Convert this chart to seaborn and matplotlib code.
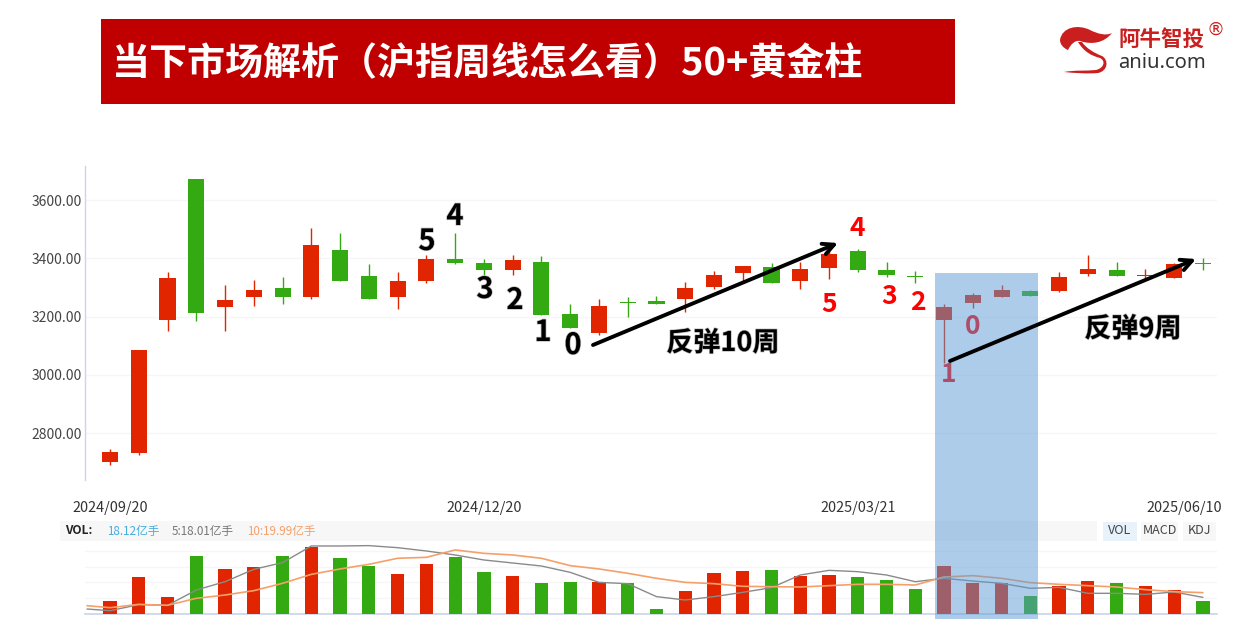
import matplotlib
matplotlib.use('Agg')
import matplotlib.pyplot as plt
import matplotlib.patheffects as pe
from matplotlib.path import Path
from matplotlib.patches import PathPatch, Rectangle
import numpy as np
import pandas as pd
import seaborn as sns

sns.set_theme(style='white')
plt.rcParams['font.family'] = ['Noto Sans CJK SC', 'DejaVu Sans']

# weekly candles, 39 weeks
opens = [2700, 2732, 3187, 3672, 3234, 3268, 3297, 3268, 3427, 3339, 3268, 3321, 3397, 3384, 3361, 3389,
         3208, 3144, 3249, 3253, 3262, 3300, 3350, 3369, 3321, 3367, 3424, 3360, 3338, 3188, 3245, 3266,
         3288, 3289, 3347, 3360, 3339, 3333, 3382]
closes = [2734, 3085, 3331, 3211, 3256, 3293, 3266, 3447, 3323, 3260, 3322, 3397, 3384, 3361, 3395, 3205,
          3162, 3238, 3245, 3244, 3299, 3342, 3374, 3315, 3365, 3415, 3359, 3344, 3336, 3233, 3273, 3291,
          3271, 3337, 3363, 3340, 3341, 3380, 3380]
highs = [2746, 3085, 3354, 3672, 3308, 3325, 3335, 3505, 3486, 3380, 3352, 3411, 3488, 3397, 3412, 3408,
         3242, 3262, 3267, 3270, 3320, 3355, 3374, 3383, 3388, 3430, 3432, 3389, 3356, 3244, 3282, 3308,
         3292, 3354, 3411, 3389, 3362, 3385, 3400]
lows = [2689, 2725, 3149, 3185, 3149, 3236, 3243, 3259, 3323, 3260, 3225, 3316, 3381, 3339, 3343, 3205,
        3162, 3138, 3199, 3244, 3216, 3295, 3320, 3315, 3295, 3330, 3353, 3335, 3314, 3039, 3230, 3266,
        3271, 3283, 3340, 3338, 3328, 3333, 3360]
# red / green as shown on the chart (not always close vs open)
up_flags = [1, 1, 1, 0, 1, 1, 0, 1, 0, 0, 1, 1, 0, 0, 1, 0, 0, 1, 0, 0, 1, 1, 1, 0, 1, 1, 0, 0, 0, 1, 1, 1,
            0, 1, 1, 0, 1, 1, 0]
volumes = [17.2, 50.3, 23.1, 78.8, 61.6, 63.9, 78.8, 91.5, 75.7, 65.2, 54.8, 67.5, 77.5, 57.1, 51.6, 42.1,
           43.5, 43.5, 42.1, 6.8, 30.8, 55.7, 58, 59.3, 51.2, 52.5, 50.3, 46.7, 34, 65.2, 42.1, 42.1, 24.9,
           38.1, 44.4, 42.1, 37.6, 32.6, 18.12]
ma5 = [6.8, 4.5, 12.7, 11.8, 32.6, 43.9, 60.7, 69.8, 92.4, 92.4, 92.9, 90.1, 85.6, 80.2, 73.4, 69.3, 65.2,
       56.6, 43, 41.2, 23.6, 19, 23.6, 29.4, 35.8, 53, 59.3, 57.5, 53, 43.9, 48.5, 44.8, 41.7, 34.9, 36.2,
       28.1, 28.1, 26.7, 29.9, 22.6]
ma10 = [11.3, 8.6, 13.1, 11.8, 21.3, 25.8, 31.7, 41.7, 53.9, 61.2, 67.5, 75.7, 77, 87, 82.4, 80.2, 75.7,
        65.7, 61.2, 55.3, 48.5, 43, 41.2, 37.6, 37.1, 36.7, 38.5, 40.3, 40.3, 39.4, 50.3, 52.1, 48.5, 42.6,
        40.3, 38.5, 36.7, 33.1, 30.4, 29]
price_ticks = [2800, 3000, 3200, 3400, 3600]
volume_grid = [21.3, 43.1, 64.3, 86]

RED = '#e02500'
GREEN = '#33aa11'
W, H = 1243, 633

weeks = np.arange(len(opens))
df = pd.DataFrame({'week': weeks, 'open': opens, 'close': closes, 'high': highs, 'low': lows,
                   'volume': volumes, 'side': ['up' if u else 'down' for u in up_flags]})
df['color'] = df['side'].map({'up': RED, 'down': GREEN})

fig = plt.figure(figsize=(W / 100, H / 100), dpi=100, facecolor='white')


def px_axes(left, top, right, bottom, **kw):
    return fig.add_axes([left / W, 1 - bottom / H, (right - left) / W, (bottom - top) / H], **kw)


xlim = (-0.87, 38.49)

# price panel
ax = px_axes(85, 166, 1217, 480)
ax.vlines(df['week'], df['low'], df['high'], colors=df['color'], lw=1, zorder=3)
body_low = df[['open', 'close']].min(axis=1)
body_h = (df['open'] - df['close']).abs().clip(lower=5)
ax.bar(df['week'], body_h, bottom=body_low, width=0.56, color=df['color'], linewidth=0, zorder=4)
ax.set_xlim(xlim)
ax.set_ylim(2639, 3717)
ax.set_yticks(price_ticks)
ax.set_yticklabels(['%.2f' % t for t in price_ticks], fontsize=10, color='#444444')
ax.set_xticks([])
ax.tick_params(axis='y', length=0, pad=2)
ax.grid(axis='y', color='#f6f6f8', lw=1)
ax.set_axisbelow(True)
sns.despine(ax=ax, top=True, right=True, bottom=True)
ax.spines['left'].set_color('#ccd6eb')
ax.spines['left'].set_linewidth(1)

# volume panel
ax_vol = px_axes(85, 544, 1217, 614)
sns.barplot(data=df, x='week', y='volume', hue='side', palette={'up': RED, 'down': GREEN},
            native_scale=True, width=0.46, dodge=False, legend=False, saturation=1, linewidth=0,
            ax=ax_vol, zorder=3)
line_x = [xlim[0] + 0.07] + list(weeks)
sns.lineplot(x=line_x, y=ma5, color='#8a8a8a', lw=1, sort=False, estimator=None, ax=ax_vol, zorder=4)
sns.lineplot(x=line_x, y=ma10, color='#f5a06a', lw=1.2, sort=False, estimator=None, ax=ax_vol, zorder=5)
ax_vol.set_xlim(xlim)
ax_vol.set_ylim(0, 95.1)
ax_vol.set_yticks(volume_grid)
ax_vol.set_yticklabels([])
ax_vol.set_xticks([])
ax_vol.set_xlabel('')
ax_vol.set_ylabel('')
ax_vol.tick_params(length=0)
ax_vol.grid(axis='y', color='#f6f6f8', lw=1)
ax_vol.set_axisbelow(True)
sns.despine(ax=ax_vol, top=True, right=True, left=True)
ax_vol.spines['bottom'].set_color('#ccd6eb')

# overlay in pixel coordinates: banner, logo, notes
ov = fig.add_axes([0, 0, 1, 1], zorder=10)
ov.set_xlim(0, W)
ov.set_ylim(H, 0)
ov.axis('off')
ov.patch.set_alpha(0)

ov.add_patch(Rectangle((101, 19), 854, 85, color='#c00000', lw=0))
ov.text(112, 64, '当下市场解析（沪指周线怎么看）50+黄金柱', color='white', fontsize=27.4, fontweight='bold',
        va='center', ha='left')

# logo
head = Path([(1060, 40), (1062, 27), (1078, 24), (1090, 30), (1098, 34), (1106, 36), (1112, 33),
             (1104, 43), (1092, 45), (1080, 41), (1075, 40), (1071, 44), (1068, 50), (1063, 48), (1060, 44), (1060, 40)],
            [Path.MOVETO, Path.CURVE4, Path.CURVE4, Path.CURVE4, Path.CURVE4, Path.CURVE4, Path.CURVE4,
             Path.CURVE4, Path.CURVE4, Path.CURVE4, Path.CURVE4, Path.CURVE4, Path.CURVE4, Path.CURVE4, Path.CURVE4, Path.CLOSEPOLY])
ov.add_patch(PathPatch(head, color='#c9201f', lw=0))
tail = Path([(1078, 42), (1084, 52), (1092, 56), (1100, 58), (1106, 61), (1104, 68), (1096, 70),
             (1086, 71), (1074, 70), (1064, 72), (1074, 73), (1088, 74), (1098, 73), (1108, 71), (1109, 60), (1102, 56),
             (1094, 53), (1086, 48), (1082, 42), (1078, 42)],
            [Path.MOVETO, Path.CURVE4, Path.CURVE4, Path.CURVE4, Path.CURVE4, Path.CURVE4, Path.CURVE4,
             Path.CURVE4, Path.CURVE4, Path.CURVE4, Path.CURVE4, Path.CURVE4, Path.CURVE4, Path.CURVE4, Path.CURVE4, Path.CURVE4,
             Path.CURVE4, Path.CURVE4, Path.CURVE4, Path.CLOSEPOLY])
ov.add_patch(PathPatch(tail, color='#c9201f', lw=0))
ov.text(1162, 39, '阿牛智投', color='#c9201f', fontsize=15.5, fontweight='bold', ha='center', va='center')
ov.text(1162, 63, 'aniu.com', color='#333333', fontsize=14.5, ha='center', va='center',
        family=['Noto Sans', 'DejaVu Sans'])
ov.text(1216, 30, '®', color='#c9201f', fontsize=13, ha='center', va='center', family=['DejaVu Sans'])

# date labels
for label, cx in [('2024/09/20', 110), ('2024/12/20', 484), ('2025/03/21', 858), ('2025/06/10', 1184)]:
    ov.text(cx, 508, label, fontsize=10.4, color='#333333', ha='center', va='center')

# indicator strip
ov.add_patch(Rectangle((60, 521), 1037, 20, color='#f7f7f7', lw=0))
ov.text(65, 531, 'VOL:', fontsize=8.6, fontweight='bold', color='#222222', va='center')
ov.text(107, 531, '18.12亿手', fontsize=8.4, color='#45aede', va='center')
ov.text(172, 531, '5:18.01亿手', fontsize=8.4, color='#777777', va='center')
ov.text(247, 531, '10:19.99亿手', fontsize=8.4, color='#f2a06c', va='center')
for label, x0, x1, fill in [('VOL', 1103, 1137, '#e8f2fb'), ('MACD', 1141, 1178, '#f7f7f7'), ('KDJ', 1183, 1216, '#f7f7f7')]:
    ov.add_patch(Rectangle((x0, 522), x1 - x0, 19, color=fill, lw=0))
    ov.text((x0 + x1) / 2, 531, label, fontsize=9, color='#444444', ha='center', va='center')

# count labels, tinted ones go under the blue band
shadow = [pe.withStroke(linewidth=1, foreground='#bbbbbb')]
for txt, x, y in [('5', 427, 241), ('4', 455, 216), ('3', 485, 289), ('2', 515, 300), ('1', 543, 332), ('0', 573, 345)]:
    ov.text(x, y, txt, fontsize=21, fontweight='bold', color='black', ha='center', va='center', path_effects=shadow, zorder=5)
for txt, x, y in [('5', 829, 304), ('4', 857, 229), ('3', 889, 296), ('2', 918, 303), ('1', 949, 375), ('0', 973, 327)]:
    ov.text(x, y, txt, fontsize=19, fontweight='bold', color='#ff0000', ha='center', va='center', zorder=5)

# the blue band sits over both panels
ov.add_patch(Rectangle((935, 273), 103, 346, color='#5b9bd5', alpha=0.5, lw=0, zorder=6))

for start, end in [((593, 345), (838, 243)), ((950, 361), (1196, 259))]:
    ov.annotate('', xy=end, xytext=start, zorder=7,
                arrowprops=dict(arrowstyle='->', color='black', lw=2.8, mutation_scale=20, shrinkA=0, shrinkB=0))
ov.text(723, 343, '反弹10周', fontsize=19.5, fontweight='bold', color='black', ha='center', va='center', path_effects=shadow, zorder=7)
ov.text(1133, 329, '反弹9周', fontsize=19.5, fontweight='bold', color='black', ha='center', va='center', path_effects=shadow, zorder=7)

fig.savefig('out.png', dpi=100)
